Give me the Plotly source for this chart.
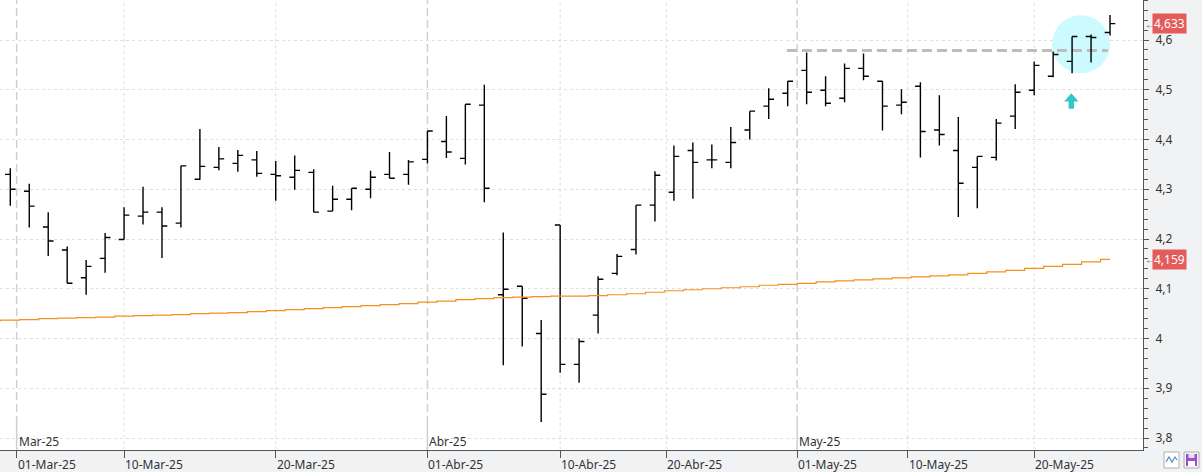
import plotly.graph_objects as go
import pandas as pd

# ---------------- data ----------------
holidays = ["2025-04-18", "2025-04-21", "2025-05-01"]
dates = [d.strftime("%Y-%m-%d") for d in pd.bdate_range("2025-02-28", "2025-05-26")
         if d.strftime("%Y-%m-%d") not in holidays]

open_ = [4.330, 4.296, 4.224, 4.178, 4.122, 4.161, 4.199, 4.246, 4.254, 4.232,
         4.320, 4.344, 4.352, 4.359, 4.330, 4.324, 4.334, 4.256, 4.280, 4.300,
         4.330, 4.330, 4.360, 4.396, 4.362, 4.469, 4.088, 4.105, 4.010, 4.228,
         3.948, 4.047, 4.131, 4.179, 4.268, 4.294, 4.378, 4.359, 4.354, 4.419,
         4.467, 4.493, 4.539, 4.499, 4.483, 4.543, 4.517, 4.469, 4.507, 4.419,
         4.378, 4.344, 4.364, 4.447, 4.499, 4.527, 4.557, 4.607, 4.615]
high = [4.342, 4.311, 4.254, 4.185, 4.158, 4.212, 4.264, 4.305, 4.264, 4.347,
        4.421, 4.385, 4.379, 4.377, 4.357, 4.368, 4.340, 4.307, 4.302, 4.337,
        4.375, 4.359, 4.417, 4.447, 4.471, 4.510, 4.213, 4.105, 4.037, 4.228,
        4.000, 4.125, 4.170, 4.268, 4.336, 4.388, 4.394, 4.390, 4.425, 4.457,
        4.503, 4.517, 4.575, 4.527, 4.553, 4.573, 4.517, 4.501, 4.515, 4.489,
        4.445, 4.366, 4.441, 4.511, 4.557, 4.577, 4.607, 4.611, 4.650]
low = [4.267, 4.223, 4.166, 4.111, 4.088, 4.132, 4.199, 4.229, 4.162, 4.223,
       4.319, 4.338, 4.335, 4.325, 4.277, 4.299, 4.254, 4.256, 4.258, 4.282,
       4.322, 4.309, 4.352, 4.363, 4.350, 4.274, 3.946, 3.984, 3.832, 3.931,
       3.911, 4.010, 4.127, 4.169, 4.235, 4.277, 4.281, 4.342, 4.342, 4.400,
       4.441, 4.467, 4.471, 4.467, 4.475, 4.519, 4.418, 4.451, 4.364, 4.388,
       4.244, 4.262, 4.358, 4.421, 4.489, 4.525, 4.533, 4.555, 4.609]
close = [4.300, 4.266, 4.196, 4.111, 4.145, 4.203, 4.248, 4.254, 4.226, 4.347,
         4.346, 4.361, 4.368, 4.332, 4.327, 4.338, 4.254, 4.280, 4.302, 4.324,
         4.322, 4.355, 4.417, 4.375, 4.471, 4.302, 4.099, 4.081, 3.888, 3.948,
         3.994, 4.119, 4.165, 4.268, 4.328, 4.366, 4.354, 4.359, 4.394, 4.457,
         4.481, 4.517, 4.495, 4.473, 4.543, 4.527, 4.467, 4.475, 4.416, 4.410,
         4.312, 4.366, 4.433, 4.495, 4.549, 4.571, 4.607, 4.605, 4.633]

# moving average (first value belongs to the session before the first bar)
ma_prev_date = "2025-02-27"
ma = [4.036,
      4.037, 4.038, 4.040, 4.041, 4.042, 4.043, 4.045, 4.046, 4.047, 4.048,
      4.050, 4.051, 4.052, 4.054, 4.056, 4.058, 4.060, 4.062, 4.064, 4.066,
      4.068, 4.070, 4.073, 4.075, 4.078, 4.080, 4.082, 4.083, 4.084, 4.085,
      4.085, 4.086, 4.088, 4.090, 4.093, 4.096, 4.098, 4.100, 4.102, 4.104,
      4.107, 4.109, 4.111, 4.114, 4.116, 4.118, 4.120, 4.122, 4.124, 4.126,
      4.128, 4.131, 4.134, 4.137, 4.141, 4.145, 4.149, 4.154, 4.159]

resistance = 4.579
tick_dates = ["2025-03-01", "2025-03-10", "2025-03-20", "2025-04-01", "2025-04-10",
              "2025-04-20", "2025-05-01", "2025-05-10", "2025-05-20"]
tick_labels = ["01-Mar-25", "10-Mar-25", "20-Mar-25", "01-Abr-25", "10-Abr-25",
               "20-Abr-25", "01-May-25", "10-May-25", "20-May-25"]
month_dates = ["2025-03-01", "2025-04-01", "2025-05-01"]
month_labels = ["Mar-25", "Abr-25", "May-25"]

# ---------------- helpers ----------------
dt = pd.to_datetime(dates)
xi = list(range(len(dates)))


def pos(date_str):
    d = pd.Timestamp(date_str)
    if date_str in dates:
        return float(dates.index(date_str))
    prev = max(k for k in xi if dt[k] < d)
    nxt = prev + 1
    gap = (dt[nxt] - dt[prev]).days
    return prev + (d - dt[prev]).days / gap


ma_x = [-1] + xi
XMIN, XMAX = -0.543, 59.74
YMIN, YMAX = 3.7759, 4.6804
FONT = "Noto Sans"

fig = go.Figure()
fig.add_trace(go.Scatter(x=ma_x, y=ma, mode="lines", line=dict(color="#f5901e", width=1.2, shape="hvh"),
                         hoverinfo="skip", showlegend=False))
fig.add_trace(go.Ohlc(x=xi, open=open_, high=high, low=low, close=close,
                      increasing=dict(line=dict(color="black", width=1.4)),
                      decreasing=dict(line=dict(color="black", width=1.4)),
                      tickwidth=0.28, showlegend=False, text=dates, hoverinfo="text"))

shapes = []
annotations = []
tick_pos = [pos(d) for d in tick_dates]
month_pos = [pos(d) for d in month_dates]
for p, d in zip(tick_pos, tick_dates):
    if d in month_dates:
        shapes.append(dict(type="line", xref="x", yref="paper", x0=p, x1=p, y0=0.058, y1=1,
                           line=dict(color="#cfcfcf", width=1.5, dash="8px,4px"), layer="between"))
        shapes.append(dict(type="line", xref="x", yref="paper", x0=p, x1=p, y0=0, y1=0.058,
                           line=dict(color="#cfcfcf", width=1.5), layer="between"))
    else:
        shapes.append(dict(type="line", xref="x", yref="paper", x0=p, x1=p, y0=0, y1=1,
                           line=dict(color="#dedede", width=1, dash="3px,3px"), layer="between"))
    annotations.append(dict(x=p, y=0, xref="x", yref="paper", text=tick_labels[tick_dates.index(d)],
                            showarrow=False, xanchor="left", yanchor="top", xshift=-1, yshift=-4,
                            font=dict(family=FONT, size=12, color="#333")))
for p, lab in zip(month_pos, month_labels):
    annotations.append(dict(x=p, y=0, xref="x", yref="paper", text=lab, showarrow=False,
                            xanchor="left", yanchor="middle", xshift=0, yshift=9,
                            font=dict(family=FONT, size=12, color="#333")))

# highlight circle
cx = (1081 - 10.3) / 18.96
cy = 4.5914
shapes.append(dict(type="circle", xref="x", yref="y", xsizemode="pixel", ysizemode="pixel",
                   xanchor=cx, yanchor=cy, x0=-29, x1=29, y0=-29, y1=29,
                   fillcolor="#ccfaff", line=dict(width=0), layer="between"))
# resistance dashed line
shapes.append(dict(type="line", xref="x", yref="y", x0=40.96, x1=57.9, y0=resistance, y1=resistance,
                   line=dict(color="#bdbdbd", width=3, dash="10px,5px"), layer="between"))
# arrow
ax = lambda px: (px - 10.3) / 18.96
ay = lambda py: 4.6 - (py - 40) / 497.5
path = (f"M {ax(1071.3)},{ay(93.3)} L {ax(1078.5)},{ay(101.5)} L {ax(1074)},{ay(101.5)} "
        f"L {ax(1074)},{ay(108.7)} L {ax(1068.6)},{ay(108.7)} L {ax(1068.6)},{ay(101.5)} "
        f"L {ax(1064.1)},{ay(101.5)} Z")
shapes.append(dict(type="path", xref="x", yref="y", path=path, fillcolor="#2ec8c8",
                   line=dict(width=0), layer="above"))

# price badges
for val in [close[-1], ma[-1]]:
    txt = f"{val:.3f}".replace(".", ",")
    annotations.append(dict(x=1, y=val, xref="paper", yref="y", text=txt, showarrow=False,
                            xanchor="left", yanchor="middle", xshift=9, bgcolor="#e35b5b",
                            borderpad=1, font=dict(family=FONT, size=12, color="white")))
    annotations.append(dict(x=1, y=val, xref="paper", yref="y", text="←", showarrow=False,
                            xanchor="left", yanchor="middle", xshift=0,
                            font=dict(family=FONT, size=10, color="#555")))

# bottom-right icons
W, H = 1143.0, 450.0
px = lambda v: v / W
py = lambda v: (H - v) / H
shapes.append(dict(type="rect", xref="paper", yref="paper", x0=px(1164), x1=px(1179), y0=py(468), y1=py(452),
                   fillcolor="white", line=dict(color="#b0b0b0", width=1)))
shapes.append(dict(type="path", xref="paper", yref="paper",
                   path=f"M {px(1166)},{py(462)} L {px(1169)},{py(457)} L {px(1172)},{py(462)} L {px(1175)},{py(457)} L {px(1177)},{py(460)}",
                   line=dict(color="#4a90d9", width=1.2)))
shapes.append(dict(type="rect", xref="paper", yref="paper", x0=px(1184), x1=px(1199), y0=py(468), y1=py(452),
                   fillcolor="#f4f4f4", line=dict(color="#b0b0b0", width=1)))
shapes.append(dict(type="rect", xref="paper", yref="paper", x0=px(1186), x1=px(1197), y0=py(466), y1=py(454),
                   fillcolor="#9a52cc", line=dict(width=0)))
shapes.append(dict(type="rect", xref="paper", yref="paper", x0=px(1188), x1=px(1195), y0=py(466), y1=py(461),
                   fillcolor="white", line=dict(width=0)))
shapes.append(dict(type="rect", xref="paper", yref="paper", x0=px(1188.5), x1=px(1194.5), y0=py(458), y1=py(454),
                   fillcolor="#e9dcf5", line=dict(width=0)))

fig.update_layout(
    width=1202, height=472,
    margin=dict(l=0, r=59, t=0, b=22),
    paper_bgcolor="#f1f2f3",
    plot_bgcolor="white",
    separators=",.",
    showlegend=False,
    shapes=shapes,
    annotations=annotations,
    xaxis=dict(range=[XMIN, XMAX], showgrid=False, zeroline=False, rangeslider=dict(visible=False),
               tickmode="array", tickvals=tick_pos, ticks="outside", ticklen=7, tickcolor="#555",
               showticklabels=False, showline=True, linecolor="#555", linewidth=1, fixedrange=True),
    yaxis=dict(range=[YMIN, YMAX], side="right", showgrid=True, gridcolor="#dedede", griddash="3px,3px",
               gridwidth=1, zeroline=False, tickmode="linear", tick0=3.8, dtick=0.1,
               ticks="outside", ticklen=5, tickcolor="#555", showline=True, linecolor="#555",
               linewidth=1, tickfont=dict(family=FONT, size=12, color="#333"),
               minor=dict(dtick=0.02, tick0=3.8, ticks="outside", ticklen=4, tickcolor="#555", showgrid=False),
               ticklabelstandoff=4),
)

fig.write_html("out.html")
